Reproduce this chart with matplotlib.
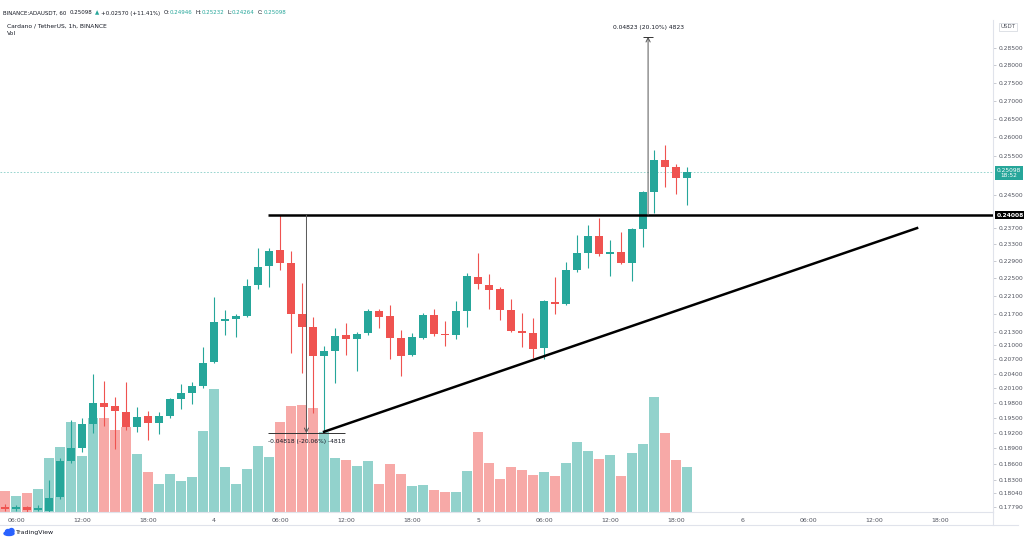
import matplotlib
matplotlib.use('Agg')
import matplotlib.pyplot as plt
import matplotlib.transforms as mtransforms
from matplotlib.ticker import NullLocator, NullFormatter
from matplotlib.lines import Line2D
from matplotlib.patches import Ellipse
import numpy as np

# ADA/USDT 1h candles, 05:00 day 3 -> 19:00 day 5
opens = [0.1780, 0.1775, 0.1779, 0.1774, 0.1772, 0.1797, 0.1865, 0.1890, 0.1937, 0.1980,
         0.1973, 0.1961, 0.1931, 0.1953, 0.1939, 0.1953, 0.1988, 0.2000, 0.2014, 0.2065,
         0.2153, 0.2158, 0.2165, 0.2234, 0.2278, 0.2316, 0.2286, 0.2169, 0.2140, 0.2077,
         0.2088, 0.2123, 0.2114, 0.2127, 0.2176, 0.2165, 0.2116, 0.2080, 0.2116, 0.2167,
         0.2125, 0.2123, 0.2176, 0.2253, 0.2234, 0.2225, 0.2178, 0.2131, 0.2127, 0.2095,
         0.2196, 0.2191, 0.2269, 0.2309, 0.2350, 0.2307, 0.2312, 0.2286, 0.2367, 0.2458,
         0.2540, 0.2522, 0.24946]
highs = [0.1784, 0.1782, 0.1781, 0.1783, 0.1829, 0.1871, 0.1945, 0.1949, 0.2039, 0.2025,
         0.1992, 0.2023, 0.1971, 0.1963, 0.1961, 0.1990, 0.2019, 0.2023, 0.2097, 0.2207,
         0.2178, 0.2169, 0.2248, 0.2321, 0.2321, 0.24008, 0.2314, 0.2239, 0.2162, 0.2099,
         0.2138, 0.2149, 0.2129, 0.2180, 0.2180, 0.2189, 0.2134, 0.2127, 0.2171, 0.2180,
         0.2153, 0.2198, 0.2262, 0.2309, 0.2260, 0.2230, 0.2203, 0.2171, 0.2160, 0.2200,
         0.2253, 0.2288, 0.2352, 0.2376, 0.2394, 0.2340, 0.2359, 0.2369, 0.2460, 0.2567,
         0.2580, 0.2530, 0.25232]
lows = [0.1772, 0.1771, 0.1770, 0.1771, 0.1770, 0.1794, 0.1861, 0.1882, 0.1919, 0.1933,
        0.1888, 0.1925, 0.1921, 0.1906, 0.1917, 0.1949, 0.1967, 0.1978, 0.2010, 0.2063,
        0.2123, 0.2118, 0.2162, 0.2225, 0.2230, 0.2269, 0.2084, 0.2041, 0.1959, 0.1919,
        0.2021, 0.2080, 0.2046, 0.2123, 0.2138, 0.2071, 0.2035, 0.2077, 0.2114, 0.2120,
        0.2099, 0.2114, 0.2140, 0.2225, 0.2180, 0.2156, 0.2129, 0.2097, 0.2073, 0.2071,
        0.2169, 0.2189, 0.2265, 0.2274, 0.2302, 0.2255, 0.2283, 0.2244, 0.2323, 0.2406,
        0.2471, 0.2453, 0.24264]
closes = [0.1775, 0.1779, 0.1774, 0.1778, 0.1796, 0.1865, 0.1890, 0.1937, 0.1980, 0.1971,
          0.1963, 0.1931, 0.1951, 0.1939, 0.1953, 0.1988, 0.2000, 0.2014, 0.2063, 0.2151,
          0.2158, 0.2165, 0.2232, 0.2276, 0.2314, 0.2286, 0.2169, 0.2140, 0.2077, 0.2088,
          0.2120, 0.2114, 0.2125, 0.2176, 0.2162, 0.2116, 0.2077, 0.2118, 0.2167, 0.2125,
          0.2123, 0.2176, 0.2255, 0.2237, 0.2223, 0.2178, 0.2131, 0.2127, 0.2092, 0.2198,
          0.2191, 0.2269, 0.2309, 0.2350, 0.2307, 0.2312, 0.2286, 0.2367, 0.2458, 0.2540,
          0.2522, 0.2494, 0.25098]
volume = [21, 16, 19, 23, 54, 65, 90, 56, 94, 94, 82, 85, 58, 40, 28, 38, 31, 35, 81, 123,
          45, 28, 43, 66, 55, 90, 106, 107, 104, 80, 54, 52, 46, 51, 28, 48, 38, 26, 27, 22,
          20, 20, 41, 80, 49, 33, 45, 42, 37, 40, 36, 49, 70, 61, 53, 57, 36, 59, 68, 115,
          79, 52, 45]

# time axis (candle index -> label)
time_ticks = [1, 7, 13, 19, 25, 31, 37, 43, 49, 55, 61, 67, 73, 79, 85]
time_labels = ['06:00', '12:00', '18:00', '4', '06:00', '12:00', '18:00', '5',
               '06:00', '12:00', '18:00', '6', '06:00', '12:00', '18:00']

# labels not hidden behind the price boxes
price_ticks = [0.285, 0.28, 0.275, 0.27, 0.265, 0.26, 0.255, 0.245,
               0.237, 0.233, 0.229, 0.225, 0.221, 0.217, 0.213, 0.21, 0.207, 0.204,
               0.201, 0.198, 0.195, 0.192, 0.189, 0.186, 0.183, 0.1804, 0.1779]

# drawings
resistance = 0.24008
resistance_start = 23.9
trend_x = [29.0, 82.9]
trend_y = [0.1922, 0.2369]
drop_x, drop_span = 27.4, (23.9, 30.9)
drop_low = 0.1919
rise_x, rise_span = 58.45, (58.0, 58.9)
rise_high = 0.28831

UP, DN = '#26a69a', '#ef5350'
VUP, VDN = '#92d2cc', '#f7a9a7'
TXT = '#131722'
AXT = '#50535e'
W, H = 1024, 542

opens = np.array(opens); closes = np.array(closes)
highs = np.array(highs); lows = np.array(lows)
x = np.arange(len(opens))
up = closes >= opens

fig = plt.figure(figsize=(W / 100, H / 100), dpi=100)
rect = [0, 30 / H, 993 / W, 492 / H]
ax_v = fig.add_axes(rect)
ax = fig.add_axes(rect, sharex=ax_v)
ax.patch.set_alpha(0)

# volume overlay
ax_v.bar(x, volume, width=0.9, color=np.where(up, VUP, VDN), linewidth=0)
ax_v.set_ylim(0, max(volume) * 4)
ax_v.axis('off')

# candles
cols = np.where(up, UP, DN)
ax.vlines(x, lows, highs, colors=cols, lw=0.8, zorder=2)
ax.bar(x, np.maximum(np.abs(closes - opens), 0.00008), bottom=np.minimum(opens, closes),
       width=0.72, color=cols, linewidth=0, zorder=3)

ax.set_yscale('log')
ax.set_ylim(0.17700, 0.29331)
ax.set_xlim(-0.4545, 89.8)

# last price line
ax.axhline(closes[-1], color=UP, lw=0.6, ls=(0, (2, 2)), alpha=0.55, zorder=1)

# resistance + trendline
ax.hlines(resistance, resistance_start, 89.8, color='black', lw=1.8, zorder=4)
ax.plot(trend_x, trend_y, color='black', lw=1.8, zorder=4)

# measure tools
ax.annotate('', xy=(drop_x, drop_low), xytext=(drop_x, resistance),
            arrowprops=dict(arrowstyle='->,head_length=0.3,head_width=0.15',
                            color='#555555', lw=0.7, shrinkA=0, shrinkB=0), zorder=5)
ax.hlines(drop_low, *drop_span, color='#333333', lw=0.7, zorder=5)
ax.annotate('-0.04818 (-20.06%) -4818', xy=(drop_x, drop_low), xytext=(0, -6),
            textcoords='offset points', ha='center', va='center', fontsize=4.3, color=TXT)
ax.annotate('', xy=(rise_x, rise_high), xytext=(rise_x, resistance),
            arrowprops=dict(arrowstyle='->,head_length=0.3,head_width=0.15',
                            color='#555555', lw=0.7, shrinkA=0, shrinkB=0), zorder=5)
ax.hlines(rise_high, *rise_span, color='#333333', lw=0.7, zorder=5)
ax.annotate('0.04823 (20.10%) 4823', xy=(rise_x, rise_high), xytext=(0, 7),
            textcoords='offset points', ha='center', va='center', fontsize=4.3, color=TXT)

# axes styling
ax.yaxis.tick_right()
ax.yaxis.set_minor_locator(NullLocator())
ax.yaxis.set_minor_formatter(NullFormatter())
ax.set_yticks(price_ticks)
ax.set_yticklabels(['%.5f' % t for t in price_ticks])
ax.tick_params(axis='y', length=2.5, width=0.5, color='#b2b5be', labelsize=4.3,
               labelcolor=AXT, pad=1.5)
ax.set_xticks(time_ticks)
ax.set_xticklabels(time_labels)
ax.tick_params(axis='x', length=0, labelsize=4.5, labelcolor=AXT, pad=4)
for s in ['top', 'left']:
    ax.spines[s].set_visible(False)
for s in ['right', 'bottom']:
    ax.spines[s].set_color('#e0e3eb')
    ax.spines[s].set_linewidth(0.8)

trans = mtransforms.blended_transform_factory(ax.transAxes, ax.transData)
ax.text(1.0035, resistance, '0.24008', transform=trans, ha='left', va='center',
        fontsize=4.3, color='white', fontweight='bold', clip_on=False, zorder=10,
        bbox=dict(boxstyle='square,pad=0.3', fc='black', ec='none'))
ax.annotate('0.25098\n18:52', xy=(1.0035, closes[-1]), xycoords=trans, xytext=(0, 3.0),
            textcoords='offset points', ha='left', va='top', fontsize=4.2, color='white',
            multialignment='center', linespacing=1.2, annotation_clip=False, zorder=10,
            bbox=dict(boxstyle='square,pad=0.3', fc=UP, ec='none'))

# frame lines of the time scale
fig.add_artist(Line2D([0, 1018 / W], [1 - 525 / H] * 2, color='#e0e3eb', lw=0.8))
fig.add_artist(Line2D([993 / W] * 2, [1 - 512 / H, 1 - 525 / H], color='#e0e3eb', lw=0.8))

fig.text(1008 / W, 1 - 27 / H, 'USDT', ha='center', va='center', fontsize=4, color=AXT,
         zorder=20, bbox=dict(boxstyle='square,pad=0.3', fc='white', ec='#d1d4dc', lw=0.5))

# header, pieces laid out one after another
hy = 1 - 13 / H
parts = [('BINANCE:ADAUSDT, 60', TXT, 3), ('0.25098', TXT, 3), ('▲', UP, 2),
         ('+0.02570 (+11.41%)', TXT, 3), ('O:', TXT, 0), ('0.24946', UP, 3),
         ('H:', TXT, 0), ('0.25232', UP, 3), ('L:', TXT, 0), ('0.24264', UP, 3),
         ('C:', TXT, 0), ('0.25098', UP, 0)]
renderer = fig.canvas.get_renderer()
px = 3
for s, c, gap in parts:
    t = fig.text(px / W, hy, s, ha='left', va='center', fontsize=4.0, color=c)
    px += t.get_window_extent(renderer).width + gap
fig.text(7 / W, 1 - 26 / H, 'Cardano / TetherUS, 1h, BINANCE', ha='left', va='center',
         fontsize=4.3, color=TXT)
fig.text(7 / W, 1 - 33.5 / H, 'Vol', ha='left', va='center', fontsize=4.3, color=TXT)

# TradingView logo: small blue cloud + name
for cx, cy, w, h in [(9, 533.5, 10, 4), (8, 531.5, 5, 4), (11.5, 531, 5, 5)]:
    fig.add_artist(Ellipse((cx / W, 1 - cy / H), w / W, h / H, color='#2962ff',
                           transform=fig.transFigure))
fig.text(16 / W, 1 - 532.5 / H, 'TradingView', ha='left', va='center', fontsize=4.5,
         color=TXT)

fig.savefig('out.png', dpi=100)
